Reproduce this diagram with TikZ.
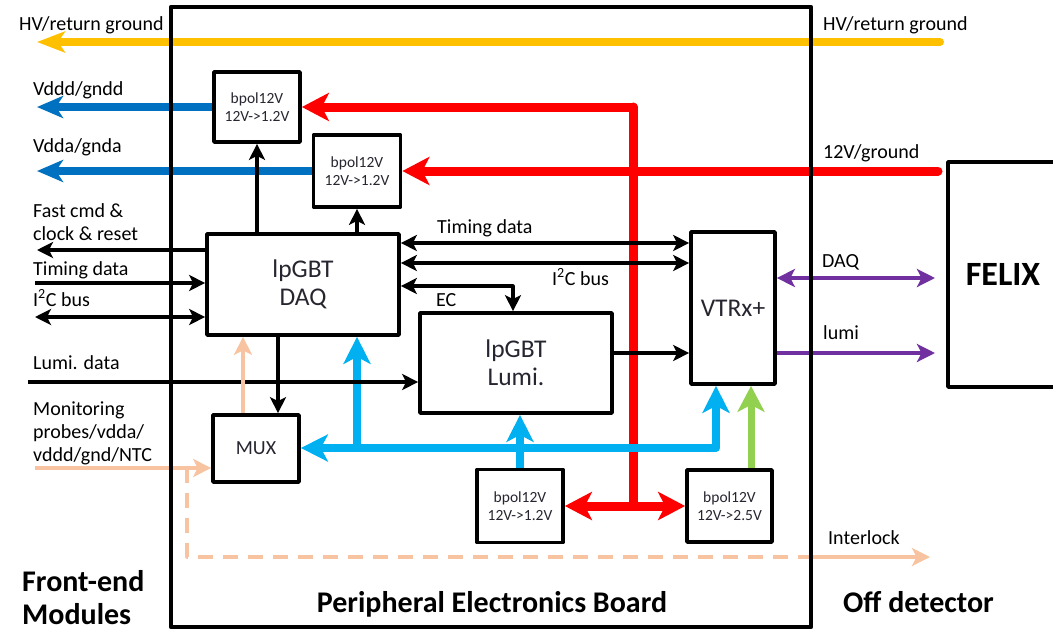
\documentclass[tikz,border=0pt]{standalone}
\usepackage{fontspec}
\setmainfont{Carlito}
\usetikzlibrary{arrows.meta}
\definecolor{cyel}{HTML}{FFC000}
\definecolor{cdblue}{HTML}{0070C0}
\definecolor{cred}{HTML}{FF0000}
\definecolor{ccyan}{HTML}{00B0F0}
\definecolor{cgreen}{HTML}{92D050}
\definecolor{cpurple}{HTML}{7030A0}
\definecolor{cpeach}{HTML}{F7C3A0}
\definecolor{ctext}{HTML}{262630}
\begin{document}
\begin{tikzpicture}[x=1pt,y=-1pt,line join=round,
  box/.style={draw,line width=3.7pt,rectangle,inner sep=0pt,align=center,text=ctext,fill=white},
  bpol/.style={box,font=\fontsize{15.5}{18}\selectfont},
  bigtxt/.style={box,font=\fontsize{25.5}{28}\selectfont},
  lbl/.style={anchor=base west,inner sep=0pt,align=left,font=\fontsize{20}{23}\selectfont},
  boldlbl/.style={inner sep=0pt,align=left,font=\fontsize{30}{33}\selectfont\bfseries},
  aBlk/.style={line width=3.2pt,-{Stealth[length=16pt,width=16pt,inset=4pt]}},
  aBlkD/.style={line width=3.2pt,{Stealth[length=16pt,width=16pt,inset=4pt]}-{Stealth[length=16pt,width=16pt,inset=4pt]}},
  aYel/.style={cyel,line width=8pt,line cap=round,-{Stealth[length=28pt,width=21pt,inset=7pt]}},
  aBlue/.style={cdblue,line width=8pt,-{Stealth[length=26pt,width=22pt,inset=7pt]}},
  aRed/.style={cred,line width=9pt,line cap=round,-{Stealth[length=27pt,width=28pt,inset=7pt]}},
  aRedD/.style={cred,line width=9pt,{Stealth[length=27pt,width=28pt,inset=7pt]}-{Stealth[length=27pt,width=28pt,inset=7pt]}},
  lRed/.style={cred,line width=9pt,line cap=round},
  aCyan/.style={ccyan,line width=8pt,-{Stealth[length=27pt,width=27pt,inset=7pt]}},
  aCyanD/.style={ccyan,line width=8pt,{Stealth[length=27pt,width=27pt,inset=7pt]}-{Stealth[length=27pt,width=27pt,inset=7pt]}},
  aGreen/.style={cgreen,line width=7pt,-{Stealth[length=26pt,width=27pt,inset=7pt]}},
  aPurp/.style={cpurple,line width=3.8pt,-{Stealth[length=18pt,width=18pt,inset=4.5pt]}},
  aPurpD/.style={cpurple,line width=3.8pt,{Stealth[length=18pt,width=18pt,inset=4.5pt]}-{Stealth[length=18pt,width=18pt,inset=4.5pt]}},
  aPeach/.style={cpeach,line width=3.2pt,-{Stealth[length=18pt,width=18pt,inset=4.5pt]}},
  dPeach/.style={cpeach,line width=3.2pt,dash pattern=on 15pt off 10pt}
]
\useasboundingbox (0,0) rectangle (1053,630);
\clip (0,0) rectangle (1053,630);

% boxes
\node[bpol,minimum width=86pt,minimum height=70pt] (bp1) at (257,107) {bpol12V\\12V->1.2V};
\node[bpol,minimum width=87pt,minimum height=72pt] (bp2) at (357,171) {bpol12V\\12V->1.2V};
\node[bigtxt,minimum width=192pt,minimum height=101pt] (daq) at (303,284.5) {lpGBT\\DAQ};
\node[bigtxt,minimum width=192pt,minimum height=100pt] (lumi) at (516,363) {lpGBT\\Lumi.};
\node[box,font=\fontsize{20}{23}\selectfont,minimum width=86pt,minimum height=67pt] (mux) at (256,448.5) {MUX};
\node[bpol,minimum width=86pt,minimum height=73pt] (bp3) at (520,506) {bpol12V\\12V->1.2V};
\node[bpol,minimum width=85pt,minimum height=72pt] (bp4) at (729.5,506) {bpol12V\\12V->2.5V};
\node[bigtxt,minimum width=84pt,minimum height=152pt] (vtrx) at (733,308) {VTRx+};
\node[box,text=black,font=\fontsize{34}{38}\selectfont\bfseries,minimum width=110pt,minimum height=225pt] (felix) at (1003,274.5) {FELIX};

% helper coordinates
\coordinate (hvR) at (940,42);
\coordinate (hvL) at (37,42);
\coordinate (vddL) at (37,107);
\coordinate (vdaL) at (37,171);
\coordinate (v12R) at (938,171);
\coordinate (rTop) at (633,107);
\coordinate (rBot) at (633,506);
\coordinate (fcL) at (37,250);
\coordinate (tdL) at (35,283);
\coordinate (icL) at (35,317);
\coordinate (yA) at (0,243);
\coordinate (yB) at (0,263);
\coordinate (ec) at (513,286);
\coordinate (yL) at (0,353);
\coordinate (lumiIn) at (28,382);
\coordinate (daqMux) at (278,0);
\coordinate (peachX) at (243,0);
\coordinate (monL) at (35,468);
\coordinate (dashA) at (187,468);
\coordinate (dashC) at (187,557);
\coordinate (dashE) at (811,557);
\coordinate (interE) at (930,557);
\coordinate (cyR) at (716,448);
\coordinate (cyD) at (357,448);
\coordinate (grX) at (751,0);
\coordinate (purA) at (0,278);
\coordinate (purB) at (0,353);
\coordinate (purE) at (935,0);

% power lines
\draw[aYel] (hvR) -- (hvL);
\draw[aBlue] (bp1.west) -- (vddL);
\draw[aBlue] (bp2.west) -- (vdaL);
\draw[lRed] (rBot) -- (rTop);
\draw[aRed] (v12R) -- (bp2.east);
\draw[aRed] (rBot) -- (rTop) -- (bp1.east);
\draw[aRedD] (bp3.east) -- (bp4.west);
\draw[aCyanD] (cyR -| mux.east) -- (cyR) -- (cyR |- vtrx.south);
\draw[aCyan] (cyD) -- (cyD |- daq.south);
\draw[aCyan] (bp3.north) -- (bp3.north |- lumi.south);
\draw[aGreen] (grX |- bp4.north) -- (grX |- vtrx.south);

% data lines
\draw[aBlk] (bp1.south |- daq.north) -- (bp1.south);
\draw[aBlk] (bp2.south |- daq.north) -- (bp2.south);
\draw[aBlk] (fcL -| daq.west) -- (fcL);
\draw[aBlk] (tdL) -- (tdL -| daq.west);
\draw[aBlkD] (icL) -- (icL -| daq.west);
\draw[aBlkD] (yA -| daq.east) -- (yA -| vtrx.west);
\draw[aBlkD] (yB -| daq.east) -- (yB -| vtrx.west);
\draw[aBlkD] (ec -| daq.east) -- (ec) -- (ec |- lumi.north);
\draw[aBlk] (lumiIn) -- (lumiIn -| lumi.west);
\draw[aBlk] (yL -| lumi.east) -- (yL -| vtrx.west);
\draw[aBlk] (daqMux |- daq.south) -- (daqMux |- mux.north);
\draw[aPeach] (peachX |- mux.north) -- (peachX |- daq.south);
\draw[aPeach] (monL) -- (monL -| mux.west);
\draw[dPeach] (dashA) -- (dashC) -- (dashE);
\draw[aPeach] (dashE) -- (interE);
\draw[aPurpD] (purA -| vtrx.east) -- (purA -| purE);
\draw[aPurp] (purB -| vtrx.east) -- (purB -| purE);

% board outline
\node[draw,line width=4.5pt,rectangle,inner sep=0pt,minimum width=640pt,minimum height=620pt] (board) at (491,317) {};

% labels left
\node[lbl] (tHVl) at (19,30) {HV/return ground};
\node[lbl] (tVddd) at (33,95) {Vddd/gndd};
\node[lbl] (tVdda) at (33,152) {Vdda/gnda};
\node[lbl] (tFast) at (33,240) {Fast cmd \&\\clock \& reset};
\node[lbl] (tTimL) at (33,275) {Timing data};
\node[lbl] (tI2cL) at (33,306) {I\textsuperscript{2}C bus};
\node[lbl] (tLumiD) at (33,369) {Lumi. data};
\node[lbl] (tMon) at (33,461) {Monitoring\\probes/vdda/\\vddd/gnd/NTC};
% labels inside
\node[lbl] (tTimR) at (437,233) {Timing data};
\node[lbl] (tI2cR) at (552,285) {I\textsuperscript{2}C bus};
\node[lbl] (tEC) at (436,306) {EC};
% labels right
\node[lbl] (tHVr) at (823,30) {HV/return ground};
\node[lbl] (t12V) at (823,158) {12V/ground};
\node[lbl] (tDAQ) at (822,267) {DAQ};
\node[lbl] (tlumi) at (823,339) {lumi};
\node[lbl] (tInter) at (828,544) {Interlock};
% bold captions
\node[boldlbl,anchor=base west] (tFE) at (22,624) {Front-end\\Modules};
\node[boldlbl,anchor=base] (tPEB) at (492,612) {Peripheral Electronics Board};
\node[boldlbl,anchor=base west] (tOff) at (843,612) {Off detector};
\end{tikzpicture}
\end{document}
